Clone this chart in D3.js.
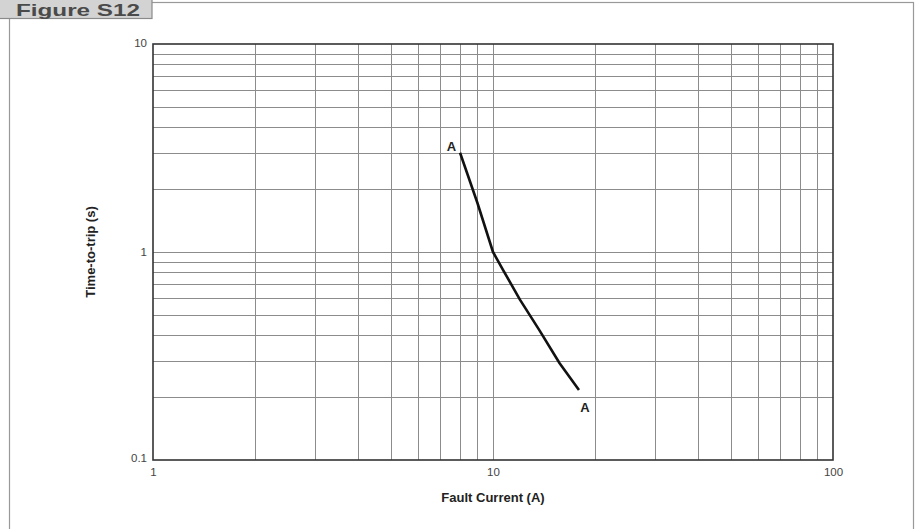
<!DOCTYPE html>
<html>
<head>
<meta charset="utf-8">
<script src="https://cdn.jsdelivr.net/npm/d3@7"></script>
<style>
html,body{margin:0;padding:0;background:#fff;}
svg{display:block;}
</style>
</head>
<body>
<svg id="chart" width="916" height="529"></svg>
<script>
// ---- data ----
const figureLabel = "Figure S12";
const xDomain = [1, 100];
const yDomain = [0.1, 10];
const xTickLabels = ["1", "10", "100"];
const yTickLabels = ["0.1", "1", "10"];
const xTickValues = [1, 10, 100];
const yTickValues = [0.1, 1, 10];
const xTitle = "Fault Current (A)";
const yTitle = "Time-to-trip (s)";
// curve A-A (current in A, time in s)
const curveCurrent = [8.0, 9.0, 10.0, 10.7, 12.0, 13.7, 15.7, 17.9];
const curveTime    = [3.0, 1.72, 1.0, 0.82, 0.59, 0.42, 0.292, 0.217];
const curveLabels  = ["A", "A"];

// ---- layout ----
const svg = d3.select("#chart");
const pL = 153, pR = 833, pT = 44, pB = 460;

const x = d3.scaleLog().domain(xDomain).range([pL, pR]);
const y = d3.scaleLog().domain(yDomain).range([pB, pT]);

// outer frame
svg.append("rect").attr("x", 9.5).attr("y", 2.5).attr("width", 904).attr("height", 540)
  .attr("fill", "none").attr("stroke", "#999").attr("stroke-width", 1.2);
// figure label box
svg.append("rect").attr("x", -2).attr("y", -10).attr("width", 154).attr("height", 28.5)
  .attr("fill", "#d3d3d3").attr("stroke", "#8a8a8a").attr("stroke-width", 1.2);
svg.append("text").attr("x", 16).attr("y", 15.5).text(figureLabel)
  .attr("font-family", "'Liberation Sans', Arial, sans-serif").attr("font-weight", "bold")
  .attr("font-size", 17).attr("textLength", 124).attr("lengthAdjust", "spacingAndGlyphs")
  .attr("fill", "#4a4a4a");

// minor/major grid
const gx = [];
for (let d = 1; d < 100; d *= 10) for (let k = 2; k <= 9; k++) gx.push(d * k);
gx.push(10);
const gy = [];
for (let d = 0.1; d < 10; d *= 10) for (let k = 2; k <= 9; k++) gy.push(+(d * k).toFixed(3));
gy.push(1);

const grid = svg.append("g").attr("stroke", "#8c8c8c").attr("stroke-width", 1);
grid.selectAll("line.v").data(gx).join("line").attr("class", "v")
  .attr("x1", d => Math.round(x(d)) + 0.5).attr("x2", d => Math.round(x(d)) + 0.5)
  .attr("y1", pT).attr("y2", pB);
grid.selectAll("line.h").data(gy).join("line").attr("class", "h")
  .attr("y1", d => Math.round(y(d)) + 0.5).attr("y2", d => Math.round(y(d)) + 0.5)
  .attr("x1", pL).attr("x2", pR);

// plot border
svg.append("rect").attr("x", pL).attr("y", pT).attr("width", pR - pL).attr("height", pB - pT)
  .attr("fill", "none").attr("stroke", "#333").attr("stroke-width", 1.6);

// axes labels via d3 axes (no lines)
const font = "'Liberation Sans', Arial, Helvetica, sans-serif";
const xAxis = d3.axisBottom(x).tickValues(xTickValues).tickFormat((d, i) => xTickLabels[i]).tickSize(0).tickPadding(8);
const yAxis = d3.axisLeft(y).tickValues(yTickValues).tickFormat((d, i) => yTickLabels[i]).tickSize(0).tickPadding(6);
const gxA = svg.append("g").attr("transform", `translate(0,${pB})`).call(xAxis);
const gyA = svg.append("g").attr("transform", `translate(${pL},0)`).call(yAxis);
[gxA, gyA].forEach(g => {
  g.select(".domain").remove();
  g.selectAll("text").attr("font-family", font).attr("font-size", 11.5).attr("fill", "#444");
});
gyA.selectAll("text").attr("dy", (d) => d === 0.1 ? "0.15em" : (d === 10 ? "0.2em" : "0.32em"));

// axis titles
svg.append("text").attr("x", (pL + pR) / 2).attr("y", 502).attr("text-anchor", "middle")
  .attr("font-family", font).attr("font-weight", "bold").attr("font-size", 13).attr("fill", "#222").text(xTitle);
svg.append("text").attr("transform", `translate(95,${(pT + pB) / 2}) rotate(-90)`).attr("text-anchor", "middle")
  .attr("font-family", font).attr("font-weight", "bold").attr("font-size", 13).attr("fill", "#222").text(yTitle);

// curve
const pts = curveCurrent.map((c, i) => [c, curveTime[i]]);
const line = d3.line().x(d => x(d[0])).y(d => y(d[1])).curve(d3.curveLinear);
svg.append("path").datum(pts).attr("d", line).attr("fill", "none").attr("stroke", "#111")
  .attr("stroke-width", 2.6).attr("stroke-linejoin", "round").attr("stroke-linecap", "butt");

// A labels
const first = pts[0], last = pts[pts.length - 1];
svg.append("text").attr("x", x(first[0]) - 4).attr("y", y(first[1]) - 2).attr("text-anchor", "end")
  .attr("font-family", font).attr("font-weight", "bold").attr("font-size", 13).attr("fill", "#222").text(curveLabels[0]);
svg.append("text").attr("x", x(last[0]) + 6).attr("y", y(last[1]) + 22).attr("text-anchor", "middle")
  .attr("font-family", font).attr("font-weight", "bold").attr("font-size", 13).attr("fill", "#222").text(curveLabels[1]);
</script>
</body>
</html>
